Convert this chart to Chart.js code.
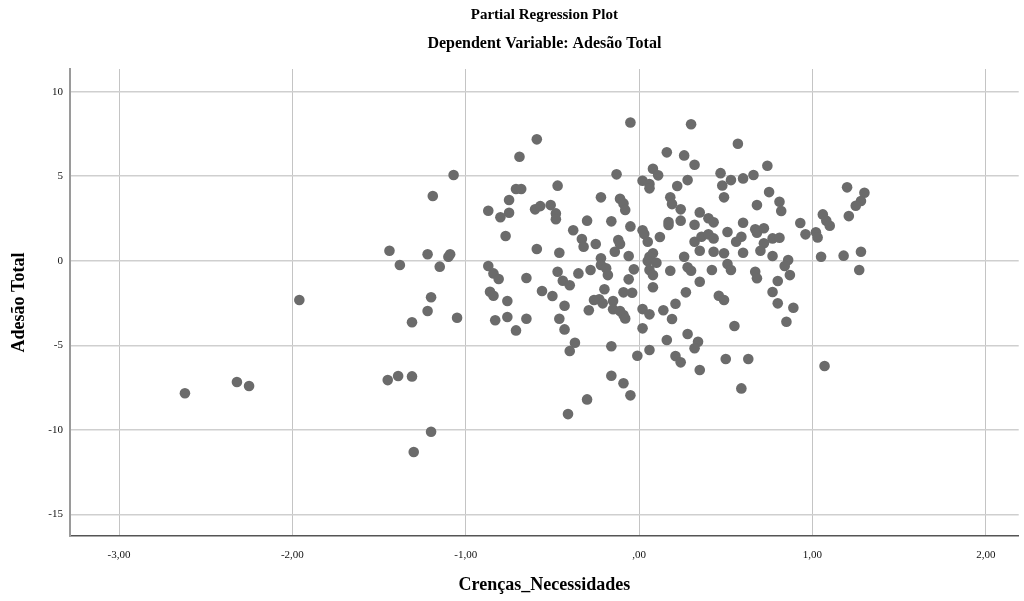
<!DOCTYPE html>
<html lang="pt">
<head>
<meta charset="utf-8">
<title>Partial Regression Plot</title>
<script src="https://cdn.jsdelivr.net/npm/chart.js@4.4.1/dist/chart.umd.min.js"></script>
<style>
  html, body { margin: 0; padding: 0; background: #fff; }
  #wrap { width: 1024px; height: 601px; }
</style>
</head>
<body>
<div id="wrap"><canvas id="grafico"></canvas></div>
<script>
/* ---------- dados: resíduos parciais ---------- */
const crencas = [
  -1.19, -1.44, -1.22, -1.38, -1.15, -1.96, -1.20, -1.22, -1.31, -2.32, -2.25, -2.62, -1.45, -1.39, -1.31, -1.20, -1.30,
  -1.10, -1.09, -1.07, -0.59, -0.69, -0.71, -0.68, -0.47, -0.75, -0.87, -0.80, -0.75, -0.60, -0.57, -0.51, -0.48, -0.48,
  -0.77, -0.38, -0.59, -0.46, -0.87, -0.84, -0.81, -0.65, -0.47, -0.44, -0.40, -0.35, -0.86, -0.84, -0.76, -0.56, -0.50,
  -0.43, -1.05, -0.83, -0.76, -0.65, -0.71, -0.46, -0.43, -0.37, -0.40, -0.41,
  -0.05, 0.30, 0.16, 0.26, 0.32, -0.13, 0.08, 0.11, 0.02, 0.06, 0.06, 0.22, 0.28, -0.22, -0.11, -0.09, -0.08, 0.18, 0.19,
  0.24, 0.35, 0.40, 0.43, -0.30, -0.16, -0.05, 0.17, 0.17, 0.24, 0.32, 0.02, 0.03, 0.12, 0.05, -0.33, -0.25, -0.12, -0.11,
  -0.14, -0.06, -0.22, 0.08, 0.06, 0.32, 0.36, 0.40, 0.43, 0.35, 0.43, 0.26, -0.32,
  -0.22, -0.19, -0.18, -0.28, -0.03, -0.06, 0.05, 0.10, 0.06, 0.08, 0.08, 0.18, 0.28, 0.30, 0.35, 0.42, 0.27, 0.46, -0.20,
  -0.09, -0.04, -0.26, -0.23, -0.21, -0.15, -0.29, -0.15, -0.11, -0.09, -0.08, 0.02, 0.06, 0.14, 0.21, 0.19, 0.02, 0.16,
  0.28, 0.34, 0.32, -0.16, -0.01, 0.06, 0.21, 0.24, 0.35, -0.16, -0.09, -0.05, -0.30,
  0.57, 0.74, 0.47, 0.53, 0.48, 0.60, 0.66, 0.75, 0.49, 0.81, 0.82, 0.68, 1.20, 1.30, 1.28, 1.25, 1.21, 1.06, 1.08, 1.10,
  0.93, 0.60, 0.51, 0.67, 0.68, 0.72, 0.59, 0.56, 0.77, 0.81, 0.72, 0.70, 0.96, 1.02, 1.03, 0.49, 0.60, 0.77, 0.86, 1.05,
  1.18, 1.28, 0.51, 0.53, 0.67, 0.68, 0.84, 0.87, 0.80, 0.77, 0.80, 0.89, 0.85, 0.49, 0.55, 0.50, 0.63, 0.59, 1.07, 1.27,
];
const adesao = [
  3.83, 0.59, 0.38, -0.25, -0.35, -2.32, -2.16, -2.97, -3.64, -7.17, -7.41, -7.84, -7.06, -6.82, -6.84, -10.11, -11.31,
  0.24, 0.38, 5.07, 7.18, 6.15, 4.24, 4.24, 4.44, 3.59, 2.96, 2.57, 2.84, 3.04, 3.23, 3.29, 2.80, 2.45,
  1.46, 1.80, 0.69, 0.47, -0.31, -0.75, -1.08, -1.02, -0.65, -1.18, -1.45, -0.75, -1.83, -2.07, -2.38, -1.79, -2.09,
  -2.66, -3.37, -3.52, -3.33, -3.43, -4.12, -3.43, -4.06, -4.85, -5.34, -9.07,
  8.18, 8.07, 6.41, 6.23, 5.68, 5.11, 5.44, 5.05, 4.73, 4.54, 4.28, 4.42, 4.77, 3.75, 3.67, 3.39, 3.00, 3.75, 3.35,
  3.04, 2.86, 2.51, 2.27, 2.37, 2.33, 2.03, 2.29, 2.11, 2.37, 2.13, 1.80, 1.58, 1.40, 1.12, 1.28, 0.99, 1.22, 0.99,
  0.53, 0.28, 0.14, 0.44, 0.24, 1.12, 1.42, 1.56, 1.32, 0.59, 0.53, 0.24, 0.83,
  -0.25, -0.45, -0.85, -0.55, -0.51, -1.10, -0.02, -0.12, -0.55, -0.85, -1.57, -0.59, -0.39, -0.59, -1.24, -0.55, -1.87, -2.07, -1.69,
  -1.87, -1.89, -2.32, -2.28, -2.52, -2.38, -2.93, -2.87, -2.97, -3.21, -3.41, -2.86, -3.17, -2.93, -2.54, -3.45, -4.00, -4.69,
  -4.33, -4.79, -5.18, -5.06, -5.62, -5.28, -5.64, -6.01, -6.46, -6.80, -7.25, -7.96, -8.20,
  6.92, 5.62, 5.18, 4.77, 4.45, 4.87, 5.07, 4.06, 3.75, 3.49, 2.94, 3.29, 4.34, 4.02, 3.53, 3.25, 2.64, 2.74, 2.37, 2.07,
  2.23, 2.25, 1.70, 1.86, 1.66, 1.92, 1.42, 1.12, 1.32, 1.36, 1.03, 0.59, 1.56, 1.68, 1.38, 0.44, 0.47, 0.28, 0.04, 0.24,
  0.30, 0.53, -0.20, -0.55, -0.65, -1.04, -0.31, -0.85, -1.20, -1.85, -2.52, -2.78, -3.61, -2.32, -3.86, -5.81, -5.81, -7.55, -6.23, -0.55,
];

const ticksX = [-3, -2, -1, 0, 1, 2];
const ticksY = [-15, -10, -5, 0, 5, 10];

const TITULO = "Partial Regression Plot";
const SUBTITULO = "Dependent Variable: Adesão Total";

const FONTE = "'Liberation Serif', 'Times New Roman', serif";
const COR_PONTO = "#6b6b6b";

// rótulo no estilo SPSS: vírgula decimal e sem zero à esquerda (",00")
function rotuloX(v) {
  let s = Math.abs(v).toFixed(2).replace(".", ",");
  if (s.startsWith("0")) s = s.slice(1);
  return (v < 0 ? "-" : "") + s;
}

// títulos centrados sobre a área do gráfico (não sobre o canvas inteiro)
const titulos = {
  id: "titulos",
  afterDraw(chart) {
    const { ctx, chartArea } = chart;
    const cx = (chartArea.left + chartArea.right) / 2;
    ctx.save();
    ctx.fillStyle = "#000";
    ctx.textAlign = "center";
    ctx.textBaseline = "middle";
    ctx.font = `bold 15px ${FONTE}`;
    ctx.fillText(TITULO, cx, 15);
    ctx.font = `bold 16px ${FONTE}`;
    ctx.fillText(SUBTITULO, cx, 44);
    ctx.restore();
  },
};

const pontos = crencas.map((x, i) => ({ x, y: adesao[i] }));

new Chart(document.getElementById("grafico"), {
  type: "scatter",
  data: {
    datasets: [{
      data: pontos,
      backgroundColor: COR_PONTO,
      borderColor: COR_PONTO,
      borderWidth: 0,
      pointRadius: 5.3,
    }],
  },
  plugins: [titulos],
  options: {
    responsive: true,
    maintainAspectRatio: false,
    animation: false,
    layout: { padding: { top: 69, right: 2, bottom: 0, left: 0 } },
    plugins: {
      legend: { display: false },
      tooltip: { enabled: false },
    },
    scales: {
      x: {
        type: "linear",
        min: -3.283,
        max: 2.19,
        afterBuildTicks: (ax) => { ax.ticks = ticksX.map((value) => ({ value })); },
        afterFit: (ax) => { ax.height = 65; },
        ticks: {
          callback: (v) => rotuloX(v),
          color: "#111",
          font: { family: FONTE, size: 11 },
          padding: 13,
          maxRotation: 0,
        },
        grid: { color: "#c4c4c4", lineWidth: 1, drawTicks: false },
        border: { display: true, color: "#555", width: 1.5 },
        title: {
          display: true,
          text: "Crenças_Necessidades",
          color: "#000",
          font: { family: FONTE, size: 18, weight: "bold" },
          padding: { top: 0, bottom: 5 },
        },
      },
      y: {
        type: "linear",
        min: -16.28,
        max: 11.34,
        afterBuildTicks: (ax) => { ax.ticks = ticksY.map((value) => ({ value })); },
        afterFit: (ax) => { ax.width = 70; },
        ticks: {
          color: "#111",
          font: { family: FONTE, size: 11 },
          padding: 7,
        },
        grid: { color: "#cfcfcf", lineWidth: 1.5, drawTicks: false },
        border: { display: true, color: "#9a9a9a", width: 2 },
        title: {
          display: true,
          text: "Adesão Total",
          color: "#000",
          font: { family: FONTE, size: 18, weight: "bold" },
          padding: { top: 9, bottom: 0 },
        },
      },
    },
  },
});
</script>
</body>
</html>
